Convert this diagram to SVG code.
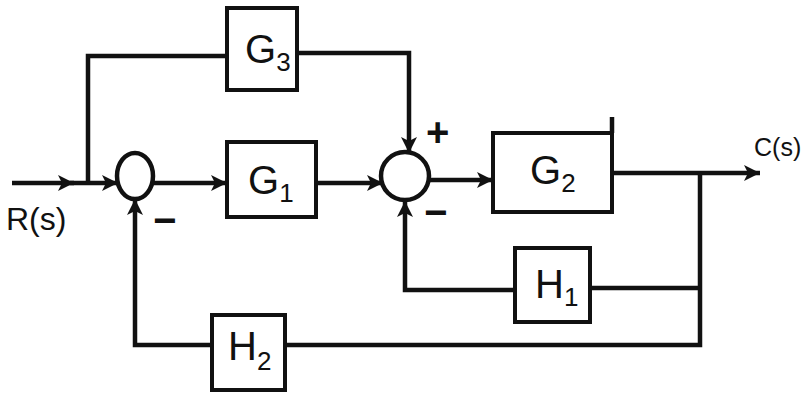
<svg xmlns="http://www.w3.org/2000/svg" width="812" height="393" viewBox="0 0 812 393">
<style>
.blk{fill:#fff;stroke:#111;stroke-width:4}
.sum{fill:#fff;stroke:#111;stroke-width:4.5}
.ln{fill:none;stroke:#111;stroke-width:4.5;stroke-linejoin:miter}
.lbl{font-family:"Liberation Sans",Arial,sans-serif;fill:#111}
.g{font-size:40px}
.sub{font-size:26px}
.sig{font-size:32px}
.sign{font-size:40px;font-weight:bold}
</style>
<defs>
<marker id="ah" markerUnits="userSpaceOnUse" markerWidth="18" markerHeight="16" refX="16" refY="8" orient="auto">
<path d="M0,0 L16,8 L0,16 L4,8 Z" fill="#111"/>
</marker>
</defs>
<rect width="812" height="393" fill="#fff"/>
<g id="connectors">
<line class="ln" x1="12" y1="183" x2="74" y2="183" marker-end="url(#ah)"/>
<line class="ln" x1="70" y1="183" x2="118" y2="183" marker-end="url(#ah)"/>
<polyline class="ln" points="88,183 88,56 227,56"/>
<polyline class="ln" points="297,53 409,53 409,153" marker-end="url(#ah)"/>
<line class="ln" x1="153" y1="183" x2="227" y2="183" marker-end="url(#ah)"/>
<line class="ln" x1="316" y1="183" x2="383" y2="183" marker-end="url(#ah)"/>
<line class="ln" x1="428" y1="180" x2="493" y2="180" marker-end="url(#ah)"/>
<line class="ln" x1="612" y1="173" x2="760" y2="173" marker-end="url(#ah)"/>
<line class="ln" x1="612" y1="117" x2="612" y2="133"/>
<polyline class="ln" points="700,173 700,345 285,345"/>
<line class="ln" x1="700" y1="288" x2="590" y2="288"/>
<polyline class="ln" points="515,290 405,290 405,201" marker-end="url(#ah)"/>
<polyline class="ln" points="212,345 135,345 135,199" marker-end="url(#ah)"/>
</g>
<g id="sum1"><ellipse class="sum" cx="135" cy="176" rx="18" ry="23"/></g>
<g id="sum2"><circle class="sum" cx="405" cy="176" r="24"/></g>
<g id="G3"><rect class="blk" x="227" y="8" width="70" height="82"/>
<text class="lbl" x="245" y="63"><tspan class="g">G</tspan><tspan class="sub" dy="8">3</tspan></text></g>
<g id="G1"><rect class="blk" x="227" y="142" width="89" height="75"/>
<text class="lbl" x="248" y="194"><tspan class="g">G</tspan><tspan class="sub" dy="8">1</tspan></text></g>
<g id="G2"><rect class="blk" x="493" y="133" width="119" height="79"/>
<text class="lbl" x="530" y="184"><tspan class="g">G</tspan><tspan class="sub" dy="8">2</tspan></text></g>
<g id="H1"><rect class="blk" x="515" y="248" width="75" height="74"/>
<text class="lbl" x="535" y="298"><tspan class="g">H</tspan><tspan class="sub" dy="8">1</tspan></text></g>
<g id="H2"><rect class="blk" x="212" y="315" width="73" height="75"/>
<text class="lbl" x="228" y="360"><tspan class="g">H</tspan><tspan class="sub" dy="10">2</tspan></text></g>
<g id="labels">
<text class="lbl sig" x="6" y="230">R(s)</text>
<text class="lbl" x="754" y="156" font-size="25">C(s)</text>
<text class="lbl sign" x="426" y="146">+</text>
<text class="lbl sign" x="153" y="234">−</text>
<text class="lbl sign" x="424" y="226">−</text>
</g>
</svg>
